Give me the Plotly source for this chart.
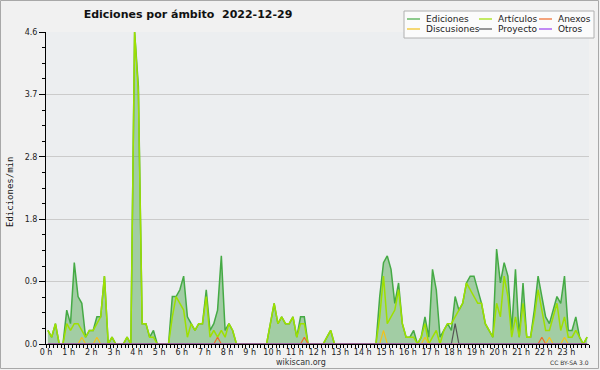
import plotly.graph_objects as go

# ---- data (values per 10-minute interval, edits/min) ----
hour_labels = ["0 h", "1 h", "2 h", "3 h", "4 h", "5 h", "6 h", "7 h", "8 h", "9 h",
               "10 h", "11 h", "12 h", "13 h", "14 h", "15 h", "16 h", "17 h", "18 h",
               "19 h", "20 h", "21 h", "22 h", "23 h"]

ediciones = [
    0.2, 0.1, 0.3, 0.0, 0.0, 0.5, 0.3, 1.2, 0.7, 0.6, 0.1, 0.2,
    0.2, 0.4, 0.4, 1.0, 0.0, 0.1, 0.0, 0.0, 0.0, 0.1, 0.0, 4.6,
    3.8, 0.3, 0.3, 0.1, 0.2, 0.0, 0.0, 0.0, 0.0, 0.7, 0.7, 0.8,
    1.0, 0.4, 0.3, 0.2, 0.3, 0.3, 0.8, 0.2, 0.3, 0.5, 1.3, 0.2,
    0.3, 0.2, 0.0, 0.0, 0.0, 0.0, 0.0, 0.0, 0.0, 0.0, 0.0, 0.3,
    0.6, 0.3, 0.4, 0.3, 0.3, 0.4, 0.1, 0.4, 0.4, 0.0, 0.0, 0.0,
    0.0, 0.0, 0.1, 0.2, 0.0, 0.0, 0.0, 0.0, 0.0, 0.0, 0.0, 0.0,
    0.0, 0.0, 0.0, 0.0, 0.7, 1.2, 1.3, 1.1, 0.6, 0.9, 0.3, 0.1,
    0.1, 0.2, 0.0, 0.1, 0.4, 0.1, 1.1, 0.8, 0.1, 0.2, 0.3, 0.2,
    0.7, 0.5, 0.6, 0.9, 1.0, 1.0, 0.8, 0.6, 0.3, 0.2, 0.1, 1.4,
    0.9, 1.2, 1.0, 0.2, 1.1, 0.1, 0.9, 0.1, 0.1, 0.5, 1.0, 0.7,
    0.4, 0.3, 0.5, 0.7, 0.6, 1.0, 0.2, 0.2, 0.4, 0.1, 0.0, 0.1,
]

articulos = [
    0.2, 0.1, 0.3, 0.0, 0.0, 0.3, 0.2, 0.3, 0.3, 0.2, 0.1, 0.2,
    0.2, 0.3, 0.4, 1.0, 0.0, 0.1, 0.0, 0.0, 0.0, 0.1, 0.0, 4.6,
    3.7, 0.3, 0.3, 0.1, 0.1, 0.0, 0.0, 0.0, 0.0, 0.4, 0.7, 0.6,
    0.5, 0.1, 0.3, 0.2, 0.3, 0.3, 0.7, 0.1, 0.2, 0.1, 0.2, 0.1,
    0.3, 0.2, 0.0, 0.0, 0.0, 0.0, 0.0, 0.0, 0.0, 0.0, 0.0, 0.3,
    0.6, 0.3, 0.4, 0.3, 0.3, 0.4, 0.1, 0.3, 0.3, 0.0, 0.0, 0.0,
    0.0, 0.0, 0.1, 0.2, 0.0, 0.0, 0.0, 0.0, 0.0, 0.0, 0.0, 0.0,
    0.0, 0.0, 0.0, 0.0, 0.4, 1.0, 0.3, 0.4, 0.5, 0.8, 0.3, 0.1,
    0.1, 0.1, 0.0, 0.1, 0.3, 0.0, 0.1, 0.2, 0.0, 0.2, 0.3, 0.3,
    0.4, 0.5, 0.6, 0.9, 0.8, 0.7, 0.6, 0.6, 0.3, 0.2, 0.1, 0.6,
    0.4, 1.0, 0.7, 0.1, 0.4, 0.1, 0.6, 0.1, 0.1, 0.4, 0.8, 0.5,
    0.2, 0.2, 0.4, 0.6, 0.2, 0.4, 0.1, 0.1, 0.2, 0.1, 0.0, 0.1,
]

discusiones = [
    0.0, 0.0, 0.0, 0.0, 0.0, 0.0, 0.0, 0.0, 0.0, 0.1, 0.0, 0.0,
    0.0, 0.1, 0.0, 0.0, 0.0, 0.0, 0.0, 0.0, 0.0, 0.0, 0.0, 0.0,
    0.0, 0.0, 0.0, 0.0, 0.0, 0.0, 0.0, 0.0, 0.0, 0.0, 0.0, 0.0,
    0.0, 0.0, 0.0, 0.0, 0.0, 0.0, 0.0, 0.0, 0.0, 0.0, 0.0, 0.0,
    0.0, 0.0, 0.0, 0.0, 0.0, 0.0, 0.0, 0.0, 0.0, 0.0, 0.0, 0.0,
    0.0, 0.0, 0.0, 0.0, 0.0, 0.0, 0.0, 0.0, 0.0, 0.0, 0.0, 0.0,
    0.0, 0.0, 0.0, 0.0, 0.0, 0.0, 0.0, 0.0, 0.0, 0.0, 0.0, 0.0,
    0.0, 0.0, 0.0, 0.0, 0.0, 0.2, 0.0, 0.0, 0.0, 0.0, 0.0, 0.0,
    0.0, 0.0, 0.0, 0.0, 0.1, 0.0, 0.0, 0.0, 0.0, 0.0, 0.0, 0.0,
    0.0, 0.0, 0.0, 0.0, 0.0, 0.0, 0.0, 0.0, 0.0, 0.0, 0.0, 0.0,
    0.0, 0.0, 0.0, 0.0, 0.0, 0.0, 0.0, 0.0, 0.0, 0.0, 0.0, 0.0,
    0.0, 0.1, 0.0, 0.0, 0.0, 0.1, 0.0, 0.0, 0.0, 0.0, 0.0, 0.0,
]

anexos = [
    0.0, 0.0, 0.0, 0.0, 0.0, 0.0, 0.0, 0.0, 0.0, 0.0, 0.0, 0.0,
    0.0, 0.0, 0.0, 0.0, 0.0, 0.0, 0.0, 0.0, 0.0, 0.0, 0.0, 0.0,
    0.0, 0.0, 0.0, 0.0, 0.0, 0.0, 0.0, 0.0, 0.0, 0.0, 0.0, 0.0,
    0.0, 0.0, 0.0, 0.0, 0.0, 0.0, 0.0, 0.0, 0.0, 0.1, 0.0, 0.0,
    0.0, 0.0, 0.0, 0.0, 0.0, 0.0, 0.0, 0.0, 0.0, 0.0, 0.0, 0.0,
    0.0, 0.0, 0.0, 0.0, 0.0, 0.0, 0.0, 0.0, 0.1, 0.0, 0.0, 0.0,
    0.0, 0.0, 0.0, 0.0, 0.0, 0.0, 0.0, 0.0, 0.0, 0.0, 0.0, 0.0,
    0.0, 0.0, 0.0, 0.0, 0.0, 0.0, 0.0, 0.0, 0.0, 0.0, 0.0, 0.0,
    0.0, 0.0, 0.0, 0.0, 0.0, 0.0, 0.0, 0.0, 0.0, 0.0, 0.0, 0.0,
    0.0, 0.0, 0.0, 0.0, 0.0, 0.0, 0.0, 0.0, 0.0, 0.0, 0.0, 0.0,
    0.0, 0.0, 0.0, 0.0, 0.0, 0.0, 0.0, 0.0, 0.0, 0.0, 0.0, 0.1,
    0.0, 0.0, 0.0, 0.0, 0.0, 0.0, 0.0, 0.0, 0.0, 0.0, 0.0, 0.0,
]

proyecto = [
    0.0, 0.0, 0.0, 0.0, 0.0, 0.0, 0.0, 0.0, 0.0, 0.0, 0.0, 0.0,
    0.0, 0.0, 0.0, 0.0, 0.0, 0.0, 0.0, 0.0, 0.0, 0.0, 0.0, 0.0,
    0.0, 0.0, 0.0, 0.0, 0.0, 0.0, 0.0, 0.0, 0.0, 0.0, 0.0, 0.0,
    0.0, 0.0, 0.0, 0.0, 0.0, 0.0, 0.0, 0.0, 0.0, 0.0, 0.0, 0.0,
    0.0, 0.0, 0.0, 0.0, 0.0, 0.0, 0.0, 0.0, 0.0, 0.0, 0.0, 0.0,
    0.0, 0.0, 0.0, 0.0, 0.0, 0.0, 0.0, 0.0, 0.0, 0.0, 0.0, 0.0,
    0.0, 0.0, 0.0, 0.0, 0.0, 0.0, 0.0, 0.0, 0.0, 0.0, 0.0, 0.0,
    0.0, 0.0, 0.0, 0.0, 0.0, 0.0, 0.0, 0.0, 0.0, 0.0, 0.0, 0.0,
    0.0, 0.0, 0.0, 0.0, 0.0, 0.0, 0.0, 0.0, 0.0, 0.0, 0.0, 0.0,
    0.3, 0.0, 0.0, 0.0, 0.0, 0.0, 0.0, 0.0, 0.0, 0.0, 0.0, 0.0,
    0.0, 0.0, 0.0, 0.0, 0.0, 0.0, 0.0, 0.0, 0.0, 0.0, 0.0, 0.0,
    0.0, 0.0, 0.0, 0.0, 0.0, 0.0, 0.0, 0.0, 0.0, 0.0, 0.0, 0.0,
]

otros = [0.0] * len(ediciones)

y_tick_values = [0, 0.92, 1.84, 2.76, 3.68, 4.6]
y_tick_labels = ["0.0", "0.9", "1.8", "2.8", "3.7", "4.6"]

# x position of each 10-minute interval (centre, in minutes since 00:00)
minutes = [10 * i + 5 for i in range(len(ediciones))]

# ---- geometry helpers (plot area in pixels) ----
L, R, T, B, W, H = 46, 11, 32, 26, 600, 370
PW, PH = W - L - R, H - T - B


def px(x):
    return (x - L) / PW


def py(y):
    return (H - B - y) / PH


FONT = "DejaVu Sans"

series = [
    ("Ediciones", ediciones, "#45aa45", 1.5),
    ("Artículos", articulos, "#9ee000", 1.5),
    ("Anexos", anexos, "#f06a28", 1.2),
    ("Discusiones", discusiones, "#f2c21c", 1.2),
    ("Proyecto", proyecto, "#555555", 1.2),
    ("Otros", otros, "#9b40f0", 1.2),
]

fig = go.Figure()
for name, vals, color, width in series:
    kw = {}
    if name == "Ediciones":
        kw = dict(fill="tozeroy", fillcolor="rgba(60,160,60,0.42)")
    fig.add_trace(go.Scatter(x=minutes, y=vals, name=name, mode="lines",
                             line=dict(color=color, width=width),
                             showlegend=False, hoverinfo="x+y+name", **kw))

fig.update_layout(
    width=W, height=H,
    margin=dict(l=L, r=R, t=T, b=B),
    paper_bgcolor="#f1f1f1",
    plot_bgcolor="#eceef0",
    title=dict(text="<b>Ediciones por ámbito\u00a0\u00a02022-12-29</b>",
               x=px(188), xref="paper", xanchor="center",
               y=1 - 14 / H, yref="container", yanchor="middle",
               font=dict(family=FONT, size=11, color="#111")),
    xaxis=dict(range=[0, 1440], tickmode="array",
               tickvals=[60 * h for h in range(24)], ticktext=hour_labels,
               ticks="outside", ticklen=3, tickwidth=1, tickcolor="#000",
               ticklabelstandoff=-3,
               showline=True, linecolor="#000", linewidth=1,
               showgrid=False, zeroline=False, fixedrange=True,
               tickfont=dict(family=FONT, size=8, color="#222"),
               minor=dict(tickmode="array", tickvals=[10 * k for k in range(145)],
                          ticks="outside", ticklen=3, tickwidth=1, tickcolor="#000",
                          showgrid=False)),
    yaxis=dict(range=[0, 4.6], tickmode="array",
               tickvals=y_tick_values, ticktext=y_tick_labels,
               ticks="outside", ticklen=6, tickwidth=1, tickcolor="#000",
               showline=True, linecolor="#000", linewidth=1,
               showgrid=True, gridcolor="#cbcbcb", gridwidth=1,
               zeroline=False, fixedrange=True,
               tickfont=dict(family=FONT, size=8, color="#222"),
               minor=dict(tickmode="array",
                          tickvals=[0.23 * k for k in range(21)],
                          ticks="outside", ticklen=3, tickwidth=1, tickcolor="#000",
                          showgrid=False)),
    showlegend=False,
)

annotations = [
    dict(text="Ediciones/min", x=px(10), y=py(192), xref="paper", yref="paper",
         textangle=-90, showarrow=False, xanchor="center", yanchor="middle",
         font=dict(family="DejaVu Sans Mono", size=9, color="#111")),
    dict(text="wikiscan.org", x=px(301), y=py(362), xref="paper", yref="paper",
         showarrow=False, xanchor="center", yanchor="middle",
         font=dict(family=FONT, size=8, color="#333")),
    dict(text="CC BY-SA 3.0", x=px(591), y=py(362), xref="paper", yref="paper",
         showarrow=False, xanchor="right", yanchor="middle",
         font=dict(family=FONT, size=6, color="#333")),
]

shapes = [
    # outer frame
    dict(type="rect", xref="paper", yref="paper",
         x0=px(0.5), x1=px(598.5), y0=py(0.5), y1=py(368.5),
         line=dict(color="#a8a8a8", width=1), fillcolor="rgba(0,0,0,0)", layer="above"),
    # legend box
    dict(type="rect", xref="paper", yref="paper",
         x0=px(404), x1=px(594), y0=py(38), y1=py(11),
         line=dict(color="#b0b0b0", width=1), fillcolor="#fbfbfb", layer="above"),
]

legend_layout = [
    ("Ediciones", 424, 19), ("Artículos", 496, 19), ("Anexos", 556, 19),
    ("Discusiones", 424, 29), ("Proyecto", 496, 29), ("Otros", 556, 29),
]
colors = {name: color for name, _, color, _ in series}
for name, tx, ty in legend_layout:
    shapes.append(dict(type="line", xref="paper", yref="paper",
                       x0=px(tx - 17), x1=px(tx - 4), y0=py(ty), y1=py(ty),
                       line=dict(color=colors[name], width=1.2), layer="above"))
    annotations.append(dict(text=name, x=px(tx), y=py(ty), xref="paper", yref="paper",
                            showarrow=False, xanchor="left", yanchor="middle",
                            font=dict(family=FONT, size=9, color="#222")))

fig.update_layout(annotations=annotations, shapes=shapes)

fig.write_html("out.html", config={"displayModeBar": False},
               post_script="document.body.style.margin='0px';"
                           "document.body.style.overflow='hidden';")
